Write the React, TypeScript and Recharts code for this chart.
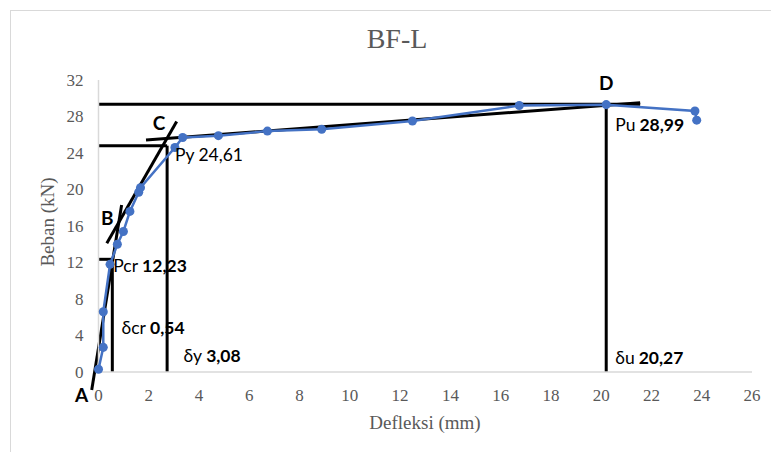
import { ScatterChart, Scatter, XAxis, YAxis, ZAxis, ReferenceLine, ReferenceDot } from 'recharts'

// measured load-deflection points of specimen BF-L
const deflection = [0.0, 0.19, 0.19, 0.46, 0.75, 0.99, 1.25, 1.6, 1.67, 3.04, 3.35, 4.77, 6.72, 8.88, 12.49, 16.74, 20.2, 23.73, 23.8]
const load = [0.3, 2.7, 6.6, 11.8, 14.0, 15.4, 17.6, 19.7, 20.2, 24.6, 25.7, 25.9, 26.4, 26.6, 27.5, 29.2, 29.3, 28.6, 27.6]

const xTicks = [0, 2, 4, 6, 8, 10, 12, 14, 16, 18, 20, 22, 24, 26]
const yTicks = [0, 4, 8, 12, 16, 20, 24, 28, 32]

// idealised stiffness lines A-B, B-C, C-D
const tangents = [
  { x1: -0.27, y1: -1.97, x2: 0.92, y2: 18.3 },
  { x1: 0.33, y1: 14.1, x2: 3.11, y2: 27.45 },
  { x1: 1.89, y1: 25.42, x2: 21.55, y2: 29.5 },
]

// crack / yield / ultimate markers
const markers = [
  { name: 'cr', dx: 0.55, py: 12.35 },
  { name: 'y', dx: 2.73, py: 24.8 },
  { name: 'u', dx: 20.2, py: 29.34 },
]
const ultimateLineEnd = 21.55

const letters = [
  { text: 'A', x: -0.67, y: -2.5 },
  { text: 'B', x: 0.35, y: 16.85 },
  { text: 'C', x: 2.41, y: 27.3 },
  { text: 'D', x: 20.2, y: 31.7 },
]

const notes = [
  { x: 3.04, y: 23.8, name: 'Py', value: '24,61', bold: false },
  { x: 0.59, y: 11.6, name: 'Pcr', value: '12,23', bold: true },
  { x: 0.92, y: 4.9, name: 'δcr', value: '0,54', bold: true },
  { x: 3.38, y: 1.75, name: 'δy', value: '3,08', bold: true },
  { x: 20.56, y: 27.1, name: 'Pu', value: '28,99', bold: true },
  { x: 20.56, y: 1.53, name: 'δu', value: '20,27', bold: true },
]

const points = deflection.map((d, i) => ({ x: d, y: load[i] }))

const BLUE = '#4472C4'
const GREY = '#595959'
const SERIF = '"Liberation Serif", "DejaVu Serif", serif'
const SANS = 'Lato, "Open Sans", sans-serif'

function XTick(p: any) {
  return (
    <text x={p.x} y={p.y} dy="0.71em" textAnchor="middle" fontFamily={SERIF} fontSize={17} fill={GREY}>
      {p.payload.value}
    </text>
  )
}

function YTick(p: any) {
  return (
    <text x={p.x} y={p.y} dy="0.34em" textAnchor="end" fontFamily={SERIF} fontSize={17} fill={GREY}>
      {p.payload.value}
    </text>
  )
}

export default function App() {
  const black = { stroke: '#000', strokeWidth: 3 }

  return (
    <div style={{ position: 'absolute', left: 0, top: 0, width: 771, height: 452, overflow: 'hidden', background: '#fff' }}>
      <div style={{ position: 'absolute', left: 10, top: 10, width: 800, height: 500, border: '1px solid #d9d9d9' }} />
      <ScatterChart width={771} height={452} margin={{ top: 80, right: 19, bottom: 50, left: 58.5 }} style={{ position: 'absolute', left: 0, top: 0 }}>
        <XAxis
          type="number"
          dataKey="x"
          domain={[0, 26]}
          ticks={xTicks}
          height={30}
          tickLine={false}
          tickSize={0}
          tickMargin={17}
          axisLine={{ stroke: '#d9d9d9', strokeWidth: 1.5 }}
          tick={<XTick />}
        />
        <YAxis
          type="number"
          dataKey="y"
          domain={[0, 32]}
          ticks={yTicks}
          width={40}
          tickLine={false}
          tickSize={0}
          tickMargin={15}
          axisLine={{ stroke: '#d9d9d9', strokeWidth: 1.5 }}
          tick={<YTick />}
        />
        <ZAxis range={[80, 80]} />
        {markers.map((m) => (
          <ReferenceLine key={'h' + m.name} ifOverflow="visible" segment={[{ x: 0, y: m.py }, { x: m.name === 'u' ? ultimateLineEnd : m.dx, y: m.py }]} {...black} />
        ))}
        {markers.map((m) => (
          <ReferenceLine key={'v' + m.name} ifOverflow="visible" segment={[{ x: m.dx, y: 0 }, { x: m.dx, y: m.py }]} {...black} />
        ))}
        <Scatter
          data={points}
          fill={BLUE}
          line={{ stroke: BLUE, strokeWidth: 2.5 }}
          isAnimationActive={false}
        />
        {tangents.map((t, i) => (
          <ReferenceLine key={'t' + i} ifOverflow="visible" segment={[{ x: t.x1, y: t.y1 }, { x: t.x2, y: t.y2 }]} {...black} />
        ))}
        {letters.map((l) => (
          <ReferenceDot
            key={l.text}
            x={l.x}
            y={l.y}
            r={0}
            fill="none"
            stroke="none"
            ifOverflow="visible"
            label={{
              content: (p: any) => (
                <text x={p.viewBox.x} y={p.viewBox.y} dy="0.36em" textAnchor="middle" fontFamily={SANS} fontSize={19} fontWeight={700} fill="#000">
                  {l.text}
                </text>
              ),
            }}
          />
        ))}
        {notes.map((n) => (
          <ReferenceDot
            key={n.name}
            x={n.x}
            y={n.y}
            r={0}
            fill="none"
            stroke="none"
            ifOverflow="visible"
            label={{
              content: (p: any) => (
                <text x={p.viewBox.x} y={p.viewBox.y} dy="0.36em" textAnchor="start" fontFamily={SANS} fontSize={17.5} fill="#000">
                  <tspan>{n.name}</tspan>
                  <tspan dx={4} fontWeight={n.bold ? 700 : 400}>{n.value}</tspan>
                </text>
              ),
            }}
          />
        ))}
      </ScatterChart>
      <svg width={771} height={452} style={{ position: 'absolute', left: 0, top: 0, pointerEvents: 'none' }}>
        <text x={397} y={48} textAnchor="middle" fontFamily={SERIF} fontSize={28} fill={GREY}>BF-L</text>
        <text x={425} y={429} textAnchor="middle" fontFamily={SERIF} fontSize={19} fill={GREY}>Defleksi (mm)</text>
        <text x={0} y={0} transform="translate(54 222) rotate(-90)" textAnchor="middle" fontFamily={SERIF} fontSize={19} fill={GREY}>Beban (kN)</text>
      </svg>
    </div>
  )
}
